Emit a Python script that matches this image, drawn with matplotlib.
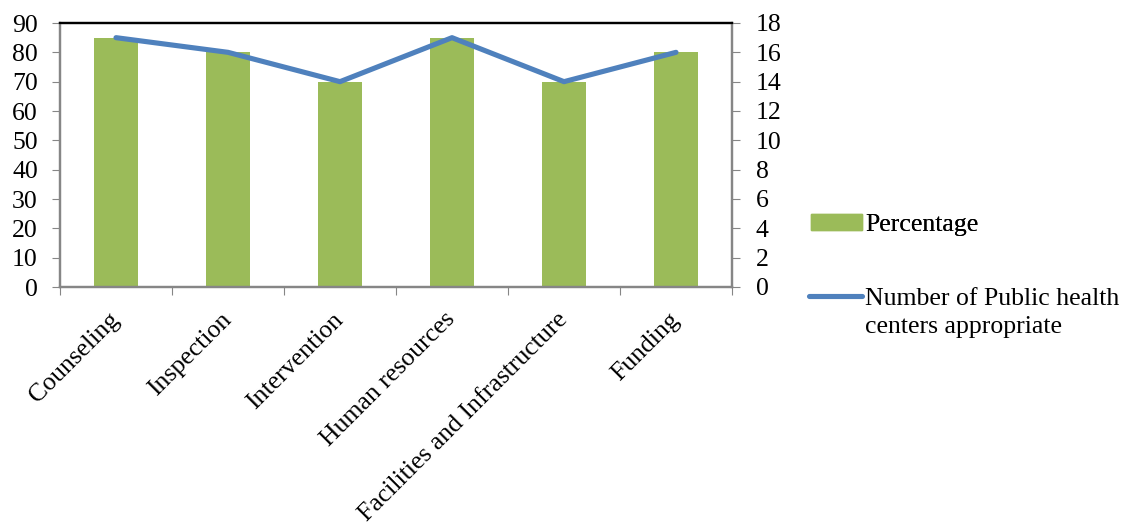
import numpy as np
import matplotlib
matplotlib.use('Agg')
import matplotlib.pyplot as plt
from matplotlib.lines import Line2D
from matplotlib.patches import Patch

categories = ['Counseling', 'Inspection', 'Intervention', 'Human resources',
              'Facilities and Infrastructure', 'Funding']
percentage = [85, 80, 70, 85, 70, 80]
n_centers = [17, 16, 14, 17, 14, 16]

plt.rcParams['font.family'] = ['Liberation Serif', 'DejaVu Serif']
plt.rcParams['font.size'] = 18.5

green = '#9BBB59'
blue = '#4F81BD'
grey = '#868686'

fig = plt.figure(figsize=(11.37, 5.27), dpi=100)
ax = fig.add_axes([60/1137, 1-287/527, 672/1137, 264/527])
x = np.arange(len(categories))
ax.bar(x, percentage, width=0.4, color=green, zorder=2)
ax.set_xlim(-0.5, len(categories)-0.5)
ax.set_ylim(0, 90)
ax.set_yticks(range(0, 91, 10))
ax.set_xticks(np.arange(-0.5, len(categories), 1.0))
ax.set_xticklabels([])
ax.set_xticks(x, minor=True)
ax.set_xticklabels(categories, minor=True, rotation=45, ha='right', va='center',
                   rotation_mode='anchor', fontsize=18.5)
ax.tick_params(axis='x', which='minor', length=0, pad=21)
ax.tick_params(axis='x', which='major', length=6, color=grey, direction='out')
ax.tick_params(axis='y', length=6, color=grey, pad=10)

ax2 = ax.twinx()
ax2.plot(x, n_centers, color=blue, lw=3.7, solid_capstyle='round', zorder=3)
ax2.set_ylim(0, 18)
ax2.set_yticks(range(0, 19, 2))
ax2.tick_params(axis='y', length=6, color=grey, pad=11)

for a in (ax, ax2):
    for s in ('left', 'right', 'bottom'):
        a.spines[s].set_color(grey)
        a.spines[s].set_linewidth(1.6)
    a.spines['top'].set_color('black')
    a.spines['top'].set_linewidth(1.6)

# legend: bar entry, then line entry whose key sits on the first text line
leg1 = fig.legend(handles=[Patch(color=green, label='Percentage')],
                  loc='upper left', bbox_to_anchor=(811/1137, 1-214/527),
                  frameon=False, borderpad=0, borderaxespad=0, handlelength=1.97,
                  handleheight=0.55, handletextpad=0.15, fontsize=18.5)
fig.add_artist(leg1)
fig.legend(handles=[Line2D([0], [0], color=blue, lw=3.7, solid_capstyle='round',
                           label='Number of Public health'),
                    Line2D([0], [0], color='none', label='centers appropriate')],
           loc='upper left', bbox_to_anchor=(809/1137, 1-287/527),
           frameon=False, borderpad=0, borderaxespad=0, handlelength=2.08,
           handletextpad=0.1, labelspacing=0.2, fontsize=18.5)

fig.savefig('out.png', dpi=100)
